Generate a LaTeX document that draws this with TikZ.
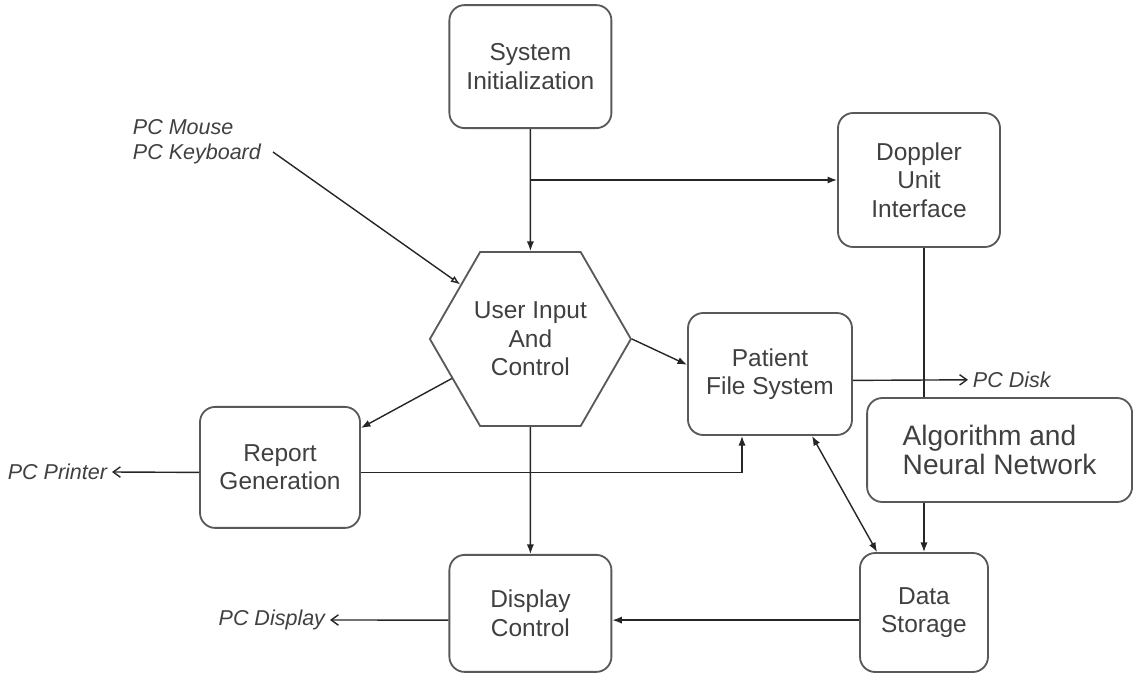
\documentclass[tikz,border=0pt]{standalone}
\usepackage{fontspec}
\setmainfont{Liberation Sans}
\usetikzlibrary{arrows.meta}
\usetikzlibrary{shapes.geometric}
\usetikzlibrary{calc}

\begin{document}
\begin{tikzpicture}[
    box/.style={shape=rectangle,
      rounded corners=3.8mm,
      draw=black!65,
      line width=1.3pt,
      text=black!75,
      align=center,
      font=\fontsize{17.4}{20.3}\selectfont},
    pclabel/.style={text=black!75,
      align=left,
      font=\fontsize{15.3}{17.8}\selectfont\itshape},
    conn/.style={line width=1pt,draw=black!85},
    flow/.style={conn,-{Latex[length=2.4mm,width=1.8mm]}},
    toext/.style={conn,-{Straight Barb[length=1.8mm,width=2.6mm]}}]
    %\draw[help lines] (0,0) grid (28,17); % Only for Development
    \useasboundingbox (0,0) rectangle (28.325,16.875);

    \node[box,
      minimum width = 4.05cm,
      minimum height = 3.075cm] (sysinit) at (13.26,15.21) {System\\Initialization};
    \node[box,
      minimum width = 4.05cm,
      minimum height = 3.35cm] (doppler) at (22.975,12.375) {Doppler\\Unit\\Interface};
    \node[shape=regular polygon,
      regular polygon sides=6,
      draw=black!65,
      line width=1.3pt,
      inner sep=0pt,
      text=black!75,
      align=center,
      font=\fontsize{17.4}{20.3}\selectfont,
      minimum size = 5.025cm] (userin) at (13.26,8.4) {User Input\\And\\Control};
    \node[box,
      minimum width = 4.1cm,
      minimum height = 3.05cm] (patient) at (19.25,7.525) {Patient\\File System};
    \node[box,
      align=left,
      font=\fontsize{20}{20.7}\selectfont,
      minimum width = 6.625cm,
      minimum height = 2.6cm] (algo) at (24.99,5.625) {Algorithm and\\Neural Network};
    \node[box,
      minimum width = 4cm,
      minimum height = 3.025cm] (report) at (7.0,5.19) {Report\\Generation};
    \node[box,
      minimum width = 4.05cm,
      minimum height = 2.925cm] (display) at (13.26,1.54) {Display\\Control};
    \node[box,
      minimum width = 3.2cm,
      minimum height = 2.975cm] (store) at (23.1,1.5625) {Data\\Storage};

    % outside devices
    \node[pclabel,anchor=west] (mouse) at (3.2,13.33) {PC Mouse\\PC Keyboard};
    \coordinate (mouseend) at (6.825,13.075);
    \node[pclabel,anchor=east] (printer) at (2.8,5.075) {PC Printer};
    \node[pclabel,anchor=west] (disk) at (24.2,7.38) {PC Disk};
    \node[pclabel,anchor=east] (pcdisplay) at (8.25,1.375) {PC Display};

    % connectors
    \draw[flow] (sysinit.south) -- (userin.north);
    \draw[flow] (sysinit.south |- doppler.west) -- (doppler.west);
    \draw[conn] (doppler.south -| store.north) -- (algo.north -| store.north);
    \draw[flow] (algo.south -| store.north) -- (store.north);
    \draw[conn,-{Latex[open,length=2.4mm,width=1.8mm]}] (mouseend) -- ($(userin.180)!0.62!(userin.120)$);
    \draw[flow] (userin.0) -- ($(patient.west)+(0,0.23)$);
    \draw[flow] ($(userin.180)!0.45!(userin.240)$) -- ($(report.north east)+(0,-0.55)$);
    \draw[toext] ($(report.west)+(0,-0.125)$) -- (printer.east);
    \draw[flow] ($(report.east)+(0,-0.125)$) -| ($(patient.south)+(-0.7,0)$);
    \draw[toext] ($(patient.east)+(0,-0.16)$) -- (disk.west);
    \draw[conn,{Latex[length=2.4mm,width=1.8mm]}-{Latex[length=2.4mm,width=1.8mm]}] ($(patient.south)+(1.05,0)$) -- ($(store.north west)+(0.45,0)$);
    \draw[flow] (userin.south) -- (display.north);
    \draw[flow] ($(store.west)+(0,-0.19)$) coordinate (dsin) -- (dsin -| display.east);
    \draw[toext] (dsin -| display.west) -- (pcdisplay.east);

  \end{tikzpicture}
\end{document}
